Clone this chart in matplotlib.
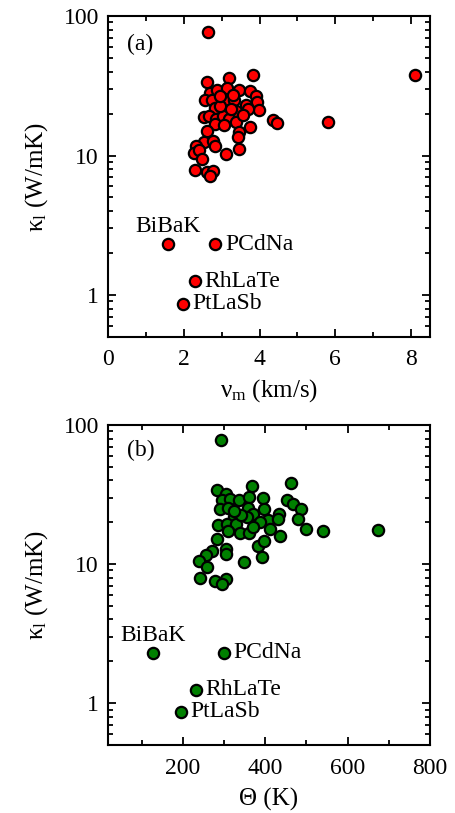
import matplotlib
matplotlib.use("Agg")
import matplotlib.pyplot as plt
from matplotlib.ticker import FixedLocator, LogLocator, NullFormatter, FixedFormatter

plt.rcParams['font.family'] = ['Liberation Serif', 'DejaVu Serif']
plt.rcParams['mathtext.fontset'] = 'custom'
plt.rcParams['mathtext.rm'] = 'Liberation Serif'
plt.rcParams['mathtext.it'] = 'Liberation Serif:italic'

# Panel (a): sound velocity (km/s) vs lattice thermal conductivity (W/mK)
vm = [2.64, 8.10, 5.82, 4.35, 4.47, 3.84, 3.19, 2.61, 2.68, 2.88, 3.13, 3.45, 3.74,
      3.91, 3.93, 3.98, 2.56, 2.74, 3.10, 3.32, 3.63, 2.82, 3.39, 3.69, 2.53, 2.67,
      2.86, 3.03, 3.19, 3.37, 2.82, 3.05, 2.62, 3.74, 3.47, 3.43, 2.53, 2.77, 2.82,
      2.33, 2.27, 2.40, 3.47, 3.11, 2.47, 2.29, 2.61, 2.77, 2.70, 2.95, 3.25, 3.55,
      2.95, 3.30]
kl_a = [77.0, 37.6, 17.3, 17.9, 17.1, 37.6, 36.2, 33.9, 28.2, 29.4, 30.4, 29.7, 29.2,
        26.7, 24.3, 21.1, 24.8, 25.2, 24.9, 24.8, 22.9, 21.9, 20.8, 21.4, 18.9, 19.2,
        18.2, 19.2, 18.2, 17.4, 16.8, 16.5, 15.0, 16.0, 14.8, 13.5, 12.5, 12.7, 11.7,
        11.7, 10.5, 11.0, 11.1, 10.2, 9.44, 7.93, 7.59, 7.80, 7.11, 22.5, 21.5, 19.5,
        26.5, 27.0]

# Panel (b): Debye temperature (K) vs lattice thermal conductivity (W/mK)
theta = [291.5, 674.5, 461.6, 366.9, 283.3, 304.5, 294.0, 314.0, 336.8, 361.0, 393.6,
         453.4, 468.0, 486.7, 478.6, 499.0, 541.0, 290.0, 310.0, 358.6, 396.5, 370.8,
         434.0, 323.9, 354.7, 407.2, 430.0, 285.8, 306.0, 328.7, 387.0, 310.0, 338.5,
         361.0, 370.8, 411.0, 435.6, 283.3, 382.9, 396.5, 304.5, 304.5, 391.0, 271.2,
         255.9, 239.6, 259.0, 348.9, 241.3, 277.7, 304.5, 294.0, 340.0, 325.0]
kl_b = [78.1, 17.5, 38.1, 36.3, 34.3, 32.1, 28.8, 29.5, 29.1, 30.4, 29.9,
        29.1, 27.2, 24.7, 21.2, 18.0, 17.3, 25.0, 25.3, 25.3, 25.0, 23.1,
        23.1, 21.9, 21.9, 20.9, 21.2, 19.0, 19.3, 19.3, 20.0, 17.3, 16.8,
        16.8, 18.5, 17.8, 15.9, 15.1, 13.5, 14.7, 12.9, 11.8, 11.2, 12.4,
        11.6, 10.6, 9.57, 10.3, 7.94, 7.60, 7.81, 7.20, 22.5, 24.0]

# Labelled compounds
names = ["BiBaK", "PCdNa", "RhLaTe", "PtLaSb"]
vm_lab = [1.59, 2.83, 2.29, 1.98]
theta_lab = [128.0, 300.0, 231.6, 195.0]
kl_lab = [2.31, 2.31, 1.25, 0.867]

yticks = [1, 10, 100]
yticklabels = ["1", "10", "100"]

fig = plt.figure(figsize=(4.55, 8.13), dpi=100)
axa = fig.add_axes([0.2374, 0.5855, 0.7077, 0.3948])
axb = fig.add_axes([0.2374, 0.0836, 0.7077, 0.3936])

FS = 17
mk = dict(marker='o', s=66, linewidths=1.6, edgecolors='black', zorder=3)

label_offsets = {"BiBaK": ((0, 5), 'center', 'bottom'),
                 "PCdNa": ((7, 0), 'left', 'center'),
                 "RhLaTe": ((7, 0), 'left', 'center'),
                 "PtLaSb": ((7, 0), 'left', 'center')}

def style(ax):
    ax.set_yscale('log')
    ax.set_ylim(0.5, 100)
    ax.yaxis.set_major_locator(FixedLocator(yticks))
    ax.yaxis.set_major_formatter(FixedFormatter(yticklabels))
    ax.yaxis.set_minor_locator(LogLocator(base=10, subs=range(2, 10)))
    ax.yaxis.set_minor_formatter(NullFormatter())
    ax.tick_params(which='both', direction='in', top=True, right=True,
                   labelsize=FS, width=1.3)
    ax.tick_params(which='major', length=6)
    ax.tick_params(which='minor', length=3.5)
    ax.tick_params(axis='x', which='major', pad=9)
    ax.tick_params(axis='y', which='major', pad=6.5)
    for sp in ax.spines.values():
        sp.set_linewidth(1.5)
    ax.set_ylabel(r'$\mathrm{\kappa_l}$ (W/mK)', fontsize=FS + 1, labelpad=10)

# (a)
axa.scatter(vm, kl_a, c='#ff0000', **mk)
axa.scatter(vm_lab, kl_lab, c='#ff0000', **mk)
for n, x, y in zip(names, vm_lab, kl_lab):
    off, ha, va = label_offsets[n]
    axa.annotate(n, (x, y), xytext=off, textcoords='offset points',
                 ha=ha, va=va, fontsize=FS)
axa.set_xlim(0, 8.5)
axa.xaxis.set_major_locator(FixedLocator([0, 2, 4, 6, 8]))
axa.xaxis.set_minor_locator(FixedLocator([1, 3, 5, 7]))
style(axa)
axa.set_xlabel(r'$\mathrm{\nu_m}$ (km/s)', fontsize=FS + 1, labelpad=5)
axa.text(0.06, 0.945, '(a)', transform=axa.transAxes, ha='left', va='top', fontsize=FS)

# (b)
axb.scatter(theta, kl_b, c='#008000', **mk)
axb.scatter(theta_lab, kl_lab, c='#008000', **mk)
for n, x, y in zip(names, theta_lab, kl_lab):
    off, ha, va = label_offsets[n]
    axb.annotate(n, (x, y), xytext=off, textcoords='offset points',
                 ha=ha, va=va, fontsize=FS)
axb.set_xlim(18, 800)
axb.xaxis.set_major_locator(FixedLocator([200, 400, 600, 800]))
axb.xaxis.set_minor_locator(FixedLocator([100, 300, 500, 700]))
style(axb)
axb.set_xlabel('Θ (K)', fontsize=FS + 1, labelpad=7)
axb.text(0.06, 0.955, '(b)', transform=axb.transAxes, ha='left', va='top', fontsize=FS)

fig.savefig('out.png', dpi=100)
